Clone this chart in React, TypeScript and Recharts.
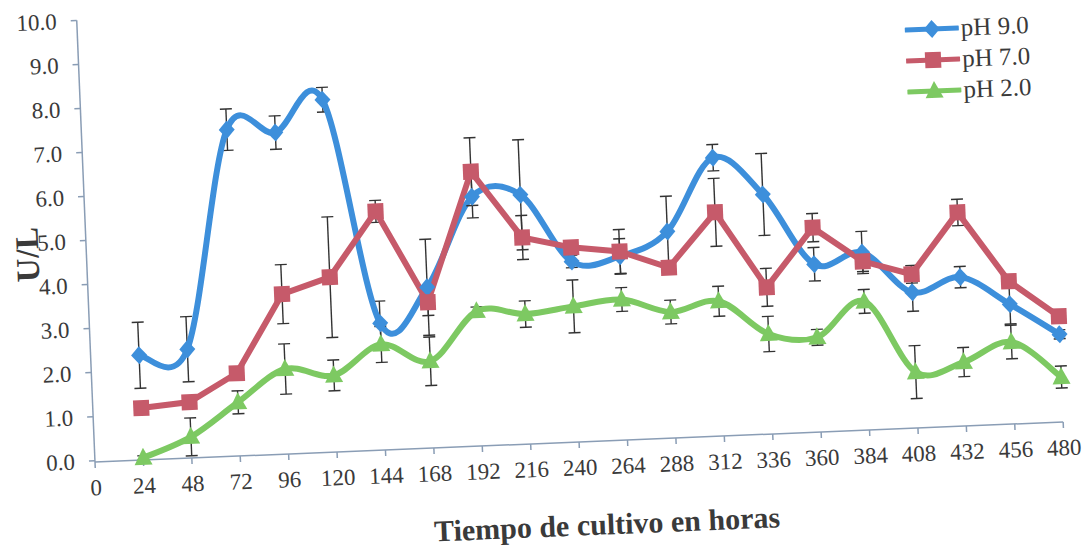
import { LineChart, Line, XAxis, YAxis, ErrorBar } from 'recharts'

const hours = [24, 48, 72, 96, 120, 144, 168, 192, 216, 240, 264, 288, 312, 336, 360, 384, 408, 432, 456, 480]
const xTicks = [0, 24, 48, 72, 96, 120, 144, 168, 192, 216, 240, 264, 288, 312, 336, 360, 384, 408, 432, 456, 480]
const yTicks = [0, 1, 2, 3, 4, 5, 6, 7, 8, 9, 10]

const ph9 = [2.35, 2.44, 7.38, 7.27, 7.97, 2.85, 3.62, 5.63, 5.63, 4.07, 4.14, 4.66, 6.29, 5.41, 3.78, 4.0, 3.05, 3.35, 2.69, 1.96]
const ph9Err = [0.75, 0.74, 0.47, 0.38, 0.28, 0.5, 1.09, 0.48, 1.25, 0.14, 0.4, 0.8, 0.3, 0.93, 0.38, 0.48, 0.43, 0.24, 0.45, 0.1]
const ph7 = [1.15, 1.24, 1.85, 3.6, 3.94, 5.39, 3.28, 6.2, 4.66, 4.39, 4.25, 3.84, 5.05, 3.3, 4.61, 3.8, 3.46, 4.82, 3.21, 2.37]
const ph7Err = [0.05, 0.1, 0.1, 0.67, 1.37, 0.25, 0.3, 0.77, 0.5, 0.1, 0.5, 0.1, 0.77, 0.43, 0.32, 0.23, 0.2, 0.3, 0.15, 0.1]
const ph2 = [0.02, 0.45, 1.19, 1.9, 1.71, 2.37, 1.94, 3.03, 2.92, 3.05, 3.16, 2.83, 3.03, 2.24, 2.12, 2.89, 1.24, 1.42, 1.83, 0.99]
const ph2Err = [0.05, 0.43, 0.26, 0.57, 0.35, 0.41, 0.55, 0.1, 0.3, 0.6, 0.27, 0.27, 0.34, 0.4, 0.18, 0.27, 0.6, 0.33, 0.38, 0.25]

const data = hours.map((h, i) => ({
    hour: h,
    ph9: ph9[i], ph9Err: ph9Err[i],
    ph7: ph7[i], ph7Err: ph7Err[i],
    ph2: ph2[i], ph2Err: ph2Err[i],
}))

const BLUE = '#3d8fdb'
const RED = '#c65a6a'
const GREEN = '#7dc962'
const AXIS = '#8a9db5'
const TEXT = '#3a3a3a'
const FONT = '"Liberation Serif", "Times New Roman", serif'

// excel-like smoothed line (catmull-rom through the points)
const excelSmooth: any = (context: any) => {
    let pts: number[][] = []
    return {
        areaStart() {},
        areaEnd() {},
        lineStart() { pts = [] },
        point(x: number, y: number) { pts.push([+x, +y]) },
        lineEnd() {
            if (!pts.length) return
            context.moveTo(pts[0][0], pts[0][1])
            const t = 1 / 6
            for (let i = 0; i < pts.length - 1; i++) {
                const p0 = pts[i - 1] || pts[i]
                const p1 = pts[i]
                const p2 = pts[i + 1]
                const p3 = pts[i + 2] || p2
                context.bezierCurveTo(
                    p1[0] + (p2[0] - p0[0]) * t, p1[1] + (p2[1] - p0[1]) * t,
                    p2[0] - (p3[0] - p1[0]) * t, p2[1] - (p3[1] - p1[1]) * t,
                    p2[0], p2[1]
                )
            }
        },
    }
}

const marker = (shape: string, cx: number, cy: number, color: string, key?: string) => {
    if (shape === 'diamond') {
        return <path key={key} d={`M${cx},${cy - 9}L${cx + 8},${cy}L${cx},${cy + 9}L${cx - 8},${cy}Z`} fill={color} />
    }
    if (shape === 'square') {
        return <rect key={key} x={cx - 8} y={cy - 8} width={16} height={16} fill={color} />
    }
    return <path key={key} d={`M${cx},${cy - 10}L${cx + 9},${cy + 7}L${cx - 9},${cy + 7}Z`} fill={color} />
}

const series = [
    { key: 'ph9', name: 'pH 9.0', color: BLUE, shape: 'diamond' },
    { key: 'ph7', name: 'pH 7.0', color: RED, shape: 'square' },
    { key: 'ph2', name: 'pH 2.0', color: GREEN, shape: 'triangle' },
]

function ChartLegend() {
    return (
        <div style={{ position: 'absolute', left: 922, top: 48, fontFamily: FONT, fontSize: 25, color: TEXT }}>
            {series.map(s => (
                <div key={s.key} style={{ display: 'flex', alignItems: 'center', height: 31 }}>
                    <svg width={54} height={22}>
                        <line x1={1} y1={11} x2={53} y2={11} stroke={s.color} strokeWidth={5} strokeLinecap="round" />
                        {marker(s.shape, 27, 11, s.color)}
                    </svg>
                    <span style={{ marginLeft: 2 }}>{s.name}</span>
                </div>
            ))}
        </div>
    )
}

export default function App() {
    return (
        <div style={{ position: 'fixed', left: 0, top: 0, width: 1089, height: 548, overflow: 'hidden', background: '#fff' }}>
            <div style={{ position: 'relative', width: 1089, height: 600, transform: 'rotate(-2.37deg)', transformOrigin: '95px 462px' }}>
                <LineChart width={1089} height={600} data={data} margin={{ top: 20, right: 25, left: 35, bottom: 98 }}>
                    <XAxis
                        dataKey="hour"
                        type="number"
                        domain={[0, 480]}
                        ticks={xTicks}
                        interval={0}
                        height={40}
                        stroke={AXIS}
                        strokeWidth={1.5}
                        tickSize={6}
                        tickMargin={11}
                        tick={{ fill: TEXT, fontSize: 23, fontFamily: FONT }}
                        label={{
                            content: () => (
                                <text x={604} y={545} textAnchor="middle" dominantBaseline="central"
                                    fontFamily={FONT} fontSize={30} fontWeight="bold" fill={TEXT}>
                                    Tiempo de cultivo en horas
                                </text>
                            ),
                        }}
                    />
                    <YAxis
                        type="number"
                        domain={[0, 10]}
                        ticks={yTicks}
                        interval={0}
                        width={60}
                        stroke={AXIS}
                        strokeWidth={1.5}
                        tickSize={6}
                        tickMargin={14}
                        tickFormatter={(v: number) => v.toFixed(1)}
                        tick={{ fill: TEXT, fontSize: 23, fontFamily: FONT }}
                        label={{
                            content: () => (
                                <text x={36} y={252} textAnchor="middle" dominantBaseline="central"
                                    transform="rotate(-90 36 252)"
                                    fontFamily={FONT} fontSize={33} fontWeight="bold" fill={TEXT}>
                                    U/L
                                </text>
                            ),
                        }}
                    />
                    <Line
                        dataKey="ph9"
                        name="pH 9.0"
                        type={excelSmooth}
                        stroke={BLUE}
                        strokeWidth={6}
                        dot={(p: any) => marker('diamond', p.cx, p.cy, BLUE, `b-${p.index}`)}
                        activeDot={false}
                        isAnimationActive={false}
                    >
                        <ErrorBar dataKey="ph9Err" direction="y" width={6} stroke="#333" strokeWidth={1.4} />
                    </Line>
                    <Line
                        dataKey="ph7"
                        name="pH 7.0"
                        type="linear"
                        stroke={RED}
                        strokeWidth={6}
                        dot={(p: any) => marker('square', p.cx, p.cy, RED, `r-${p.index}`)}
                        activeDot={false}
                        isAnimationActive={false}
                    >
                        <ErrorBar dataKey="ph7Err" direction="y" width={6} stroke="#333" strokeWidth={1.4} />
                    </Line>
                    <Line
                        dataKey="ph2"
                        name="pH 2.0"
                        type={excelSmooth}
                        stroke={GREEN}
                        strokeWidth={6}
                        dot={(p: any) => marker('triangle', p.cx, p.cy, GREEN, `g-${p.index}`)}
                        activeDot={false}
                        isAnimationActive={false}
                    >
                        <ErrorBar dataKey="ph2Err" direction="y" width={6} stroke="#333" strokeWidth={1.4} />
                    </Line>
                </LineChart>
                <ChartLegend />
            </div>
        </div>
    )
}
